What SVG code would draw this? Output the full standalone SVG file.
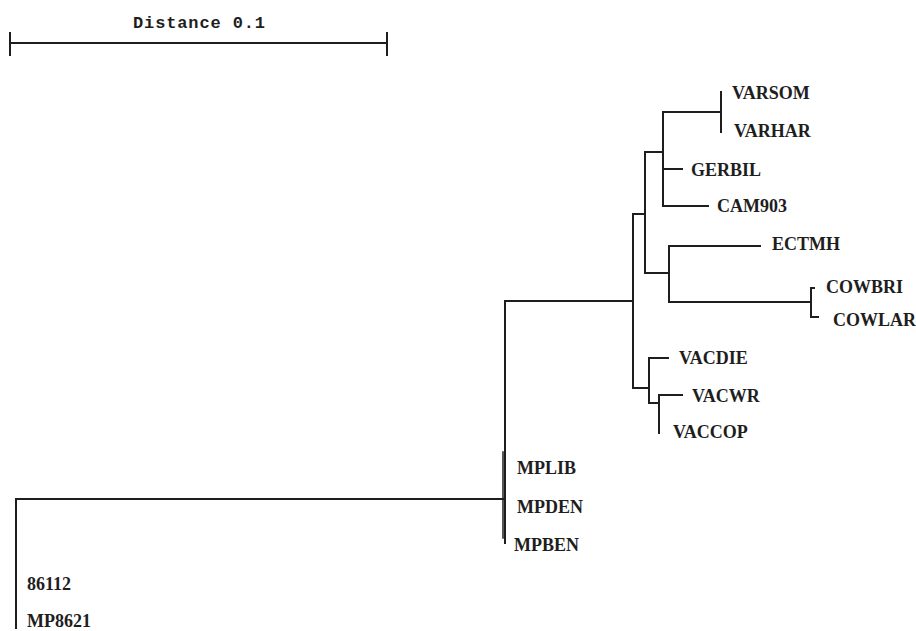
<svg xmlns="http://www.w3.org/2000/svg" width="916" height="631" viewBox="0 0 916 631">
<style>
.ln{fill:none;stroke:#1e1e1e;stroke-width:2;stroke-linecap:square}
.lb{font-family:"Liberation Serif","Times New Roman",serif;font-weight:bold;font-size:18px;fill:#1e1e1e}
.sc{font-family:"Liberation Mono","Courier New",monospace;font-weight:bold;font-size:17px;fill:#1e1e1e}
</style>
<rect width="916" height="631" fill="#ffffff"/>
<g id="scale">
<path class="ln" d="M10,43 H387 M10,33 V55 M387,33 V55"/>
<text class="sc" x="133" y="28" textLength="132" lengthAdjust="spacing">Distance 0.1</text>
</g>
<g id="connectors">
<path class="ln" d="M16,628 V499 H505"/>
<path class="ln" d="M505,543 V301 H633"/>
<path class="ln" d="M503,452 V538" style="stroke-width:1.5"/>
<path class="ln" d="M633,214 V388"/>
<path class="ln" d="M633,214 H645 M645,152 V273 M645,152 H663 M663,112 V206 M663,112 H721 M721,92 V132 M663,169 H682 M663,206 H708"/>
<path class="ln" d="M645,273 H669 M669,246 V302 M669,246 H760 M669,302 H811 M811,288 V317 M811,288 H814 M811,317 H818"/>
<path class="ln" d="M633,388 H649 M649,358 V403 M649,358 H668 M649,403 H659 M659,395 V433 M659,395 H682"/>
</g>
<g id="VARSOM"><text class="lb" x="732" y="99">VARSOM</text></g>
<g id="VARHAR"><text class="lb" x="734" y="137">VARHAR</text></g>
<g id="GERBIL"><text class="lb" x="691" y="176">GERBIL</text></g>
<g id="CAM903"><text class="lb" x="717" y="212">CAM903</text></g>
<g id="ECTMH"><text class="lb" x="772" y="250">ECTMH</text></g>
<g id="COWBRI"><text class="lb" x="826" y="293">COWBRI</text></g>
<g id="COWLAR"><text class="lb" x="833" y="326">COWLAR</text></g>
<g id="VACDIE"><text class="lb" x="679" y="364">VACDIE</text></g>
<g id="VACWR"><text class="lb" x="692" y="402">VACWR</text></g>
<g id="VACCOP"><text class="lb" x="673" y="438">VACCOP</text></g>
<g id="MPLIB"><text class="lb" x="517" y="474">MPLIB</text></g>
<g id="MPDEN"><text class="lb" x="517" y="513">MPDEN</text></g>
<g id="MPBEN"><text class="lb" x="514" y="551">MPBEN</text></g>
<g id="n86112"><text class="lb" x="27" y="590">86112</text></g>
<g id="MP8621"><text class="lb" x="27" y="627">MP8621</text></g>
</svg>
